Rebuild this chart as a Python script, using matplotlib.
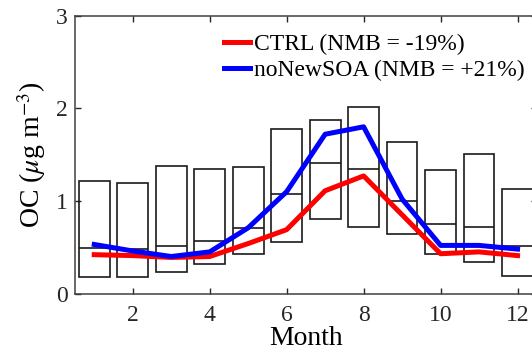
import matplotlib.pyplot as plt
import numpy as np

# monthly OC observations: box = low/high percentile, line = median
months = np.arange(1, 13)
obs_low = [0.18, 0.18, 0.23, 0.32, 0.43, 0.56, 0.81, 0.72, 0.64, 0.43, 0.34, 0.19]
obs_med = [0.49, 0.48, 0.51, 0.57, 0.71, 1.07, 1.41, 1.35, 1.00, 0.75, 0.72, 0.51]
obs_high = [1.22, 1.19, 1.38, 1.34, 1.37, 1.78, 1.87, 2.01, 1.64, 1.33, 1.51, 1.13]

# model results
ctrl = [0.42, 0.41, 0.39, 0.40, 0.54, 0.69, 1.11, 1.27, 0.85, 0.43, 0.45, 0.41]
no_new_soa = [0.53, 0.46, 0.40, 0.45, 0.71, 1.10, 1.72, 1.80, 1.02, 0.52, 0.52, 0.48]

plt.rcParams['font.family'] = ['Liberation Serif', 'DejaVu Serif']
plt.rcParams['mathtext.fontset'] = 'stix'

fig = plt.figure(figsize=(5.32, 3.55), dpi=100)
ax = fig.add_axes([0.141, 0.173, 0.868, 0.783])

box_w = 0.8
heights = np.array(obs_high) - np.array(obs_low)
ax.bar(months, heights, width=box_w, bottom=obs_low, fill=False,
       edgecolor='#1a1a1a', linewidth=1.2, zorder=2)
ax.hlines(obs_med, months - box_w / 2, months + box_w / 2,
          color='#1a1a1a', linewidth=1.2, zorder=2)

ax.plot(months, ctrl, color='#ff0000', lw=3.6, label='CTRL (NMB = -19%)', zorder=3)
ax.plot(months, no_new_soa, color='#0000ff', lw=3.6, label='noNewSOA (NMB = +21%)', zorder=3)

ax.set_xlim(0.5, 12.5)
ax.set_ylim(0, 3)
ax.set_xticks([2, 4, 6, 8, 10, 12])
ax.set_yticks([0, 1, 2, 3])
ax.tick_params(direction='in', length=4, width=1, top=True, right=True,
               labelsize=17, colors='#262626', pad=8)
ax.tick_params(axis='y', pad=5)
for s in ax.spines.values():
    s.set_color('#404040')
    s.set_linewidth(1.1)

ax.set_xlabel('Month', fontsize=20, labelpad=0)
ax.set_ylabel(r'OC ($\mu$g m$^{-3}$)', fontsize=20, labelpad=6)

ax.legend(loc='upper left', bbox_to_anchor=(0.322, 0.935), frameon=False,
          fontsize=17, handlelength=1.1, handletextpad=0.2,
          labelspacing=0.2, borderpad=0, borderaxespad=0)

plt.savefig('out.png', dpi=100)
